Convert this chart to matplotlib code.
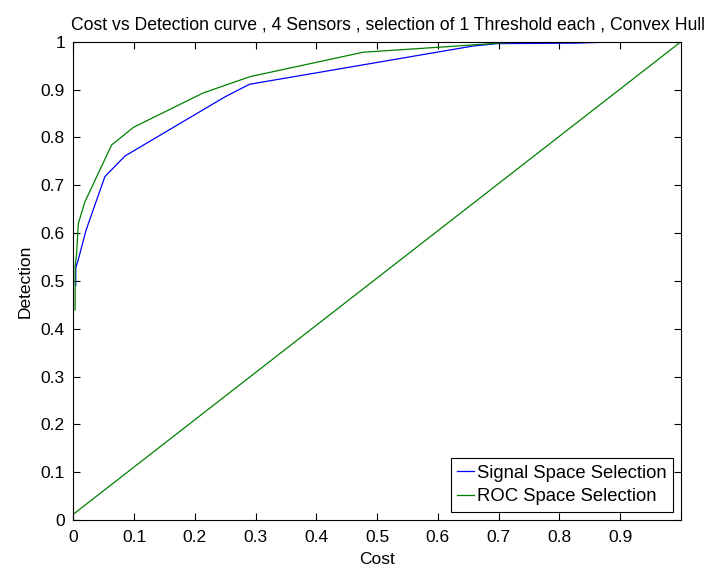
import matplotlib
matplotlib.use('Agg')
import matplotlib.pyplot as plt

plt.rcParams['font.family'] = ['Liberation Sans', 'DejaVu Sans']

# signal space selection (blue)
sig_cost = [0.004, 0.004, 0.0066, 0.021, 0.052, 0.085, 0.25, 0.29, 0.658, 0.698, 0.824, 0.879]
sig_det = [0.49, 0.527, 0.537, 0.606, 0.718, 0.761, 0.885, 0.911, 0.991, 0.996, 0.997, 0.999]

# ROC space selection (green)
roc_cost = [0.003, 0.003, 0.0055, 0.0083, 0.019, 0.063, 0.099, 0.214, 0.291, 0.477, 0.62, 0.70, 0.735, 0.826]
roc_det = [0.439, 0.529, 0.558, 0.62, 0.665, 0.784, 0.821, 0.893, 0.927, 0.978, 0.99, 0.997, 0.999, 0.999]

# chance line
diag_cost = [0.0, 1.0]
diag_det = [0.012, 1.0]

xticks = [0, 0.1, 0.2, 0.3, 0.4, 0.5, 0.6, 0.7, 0.8, 0.9]
yticks = [0, 0.1, 0.2, 0.3, 0.4, 0.5, 0.6, 0.7, 0.8, 0.9, 1]

fig = plt.figure(figsize=(7.08, 5.70), dpi=100)
ax = fig.add_axes([73.3 / 708, 50 / 570, (681 - 73.3) / 708, (520 - 41.7) / 570])

ax.plot(sig_cost, sig_det, color='#0000ff', lw=0.9, label='Signal Space Selection')
ax.plot(roc_cost, roc_det, color='#008000', lw=0.9, label='ROC Space Selection')
ax.plot(diag_cost, diag_det, color='#008000', lw=0.9)

ax.set_xlim(0, 1)
ax.set_ylim(0, 1)
ax.set_xticks(xticks)
ax.set_xticklabels(['%g' % v for v in xticks])
ax.set_yticks(yticks)
ax.set_yticklabels(['%g' % v for v in yticks])
ax.tick_params(direction='in', top=True, right=True, length=5, width=0.8, labelsize=12.5)
ax.tick_params(axis='x', pad=7)
ax.tick_params(axis='y', pad=6)
for s in ax.spines.values():
    s.set_linewidth(0.8)

ax.set_title('Cost vs Detection curve , 4 Sensors , selection of 1 Threshold each , Convex Hull',
             fontsize=12.7, pad=9, x=0.518)
ax.set_xlabel('Cost', fontsize=12.5, labelpad=5)
ax.set_ylabel('Detection', fontsize=12.5, labelpad=6)

leg = ax.legend(loc='lower right', fontsize=13.3, fancybox=False, framealpha=1,
                edgecolor='black', handlelength=0.9, handletextpad=0.15,
                borderpad=0.35, labelspacing=0.35, borderaxespad=0.45)
leg.get_frame().set_linewidth(0.8)

fig.savefig('out.png', dpi=100)
